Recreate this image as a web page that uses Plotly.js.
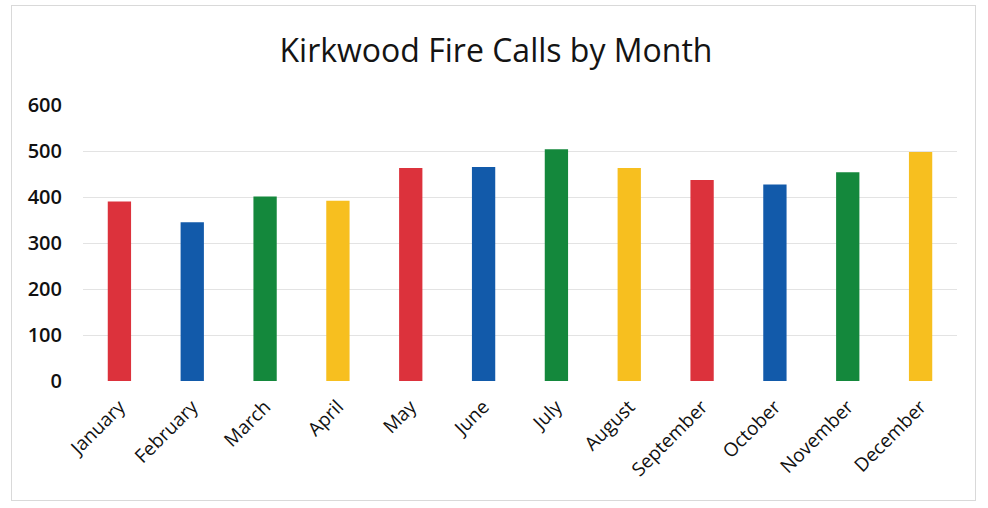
<!DOCTYPE html>
<html>
<head>
<meta charset="utf-8">
<script src="https://cdn.plot.ly/plotly-3.0.1.min.js"></script>
<style>
  html, body { margin: 0; padding: 0; background: #ffffff; }
  #wrap { position: relative; width: 988px; height: 508px; }
  #chart { width: 988px; height: 508px; }
  #frame { position: absolute; left: 11px; top: 5px; width: 963px; height: 494px;
           border: 1px solid #d9d9d9; pointer-events: none; }
</style>
</head>
<body>
<div id="wrap">
  <div id="chart"></div>
  <div id="frame"></div>
</div>
<script>
const months = ["January", "February", "March", "April", "May", "June",
                "July", "August", "September", "October", "November", "December"];
const calls = [390, 345, 401, 392, 463, 465, 504, 463, 437, 427, 454, 498];
const barColors = ["#DC323C", "#125AAA", "#14883C", "#F7BF1F",
                   "#DC323C", "#125AAA", "#14883C", "#F7BF1F",
                   "#DC323C", "#125AAA", "#14883C", "#F7BF1F"];
const yTicks = [0, 100, 200, 300, 400, 500, 600];

const trace = {
  type: "bar",
  x: months,
  y: calls,
  marker: { color: barColors, line: { width: 0 } },
  hoverinfo: "x+y"
};

const layout = {
  width: 988,
  height: 508,
  paper_bgcolor: "#ffffff",
  plot_bgcolor: "#ffffff",
  margin: { l: 83, r: 31, t: 105, b: 127 },
  bargap: 0.68,
  showlegend: false,
  title: {
    text: "Kirkwood Fire Calls by Month",
    font: { family: "Open Sans, sans-serif", size: 32, color: "#141414" },
    x: 0.502, xanchor: "center",
    y: 0.90, yanchor: "middle", yref: "container"
  },
  xaxis: {
    type: "category",
    tickangle: -45,
    showgrid: false,
    showline: false,
    zeroline: false,
    ticks: "",
    ticklabelstandoff: 10,
    tickfont: { family: "Open Sans, sans-serif", size: 19, color: "#111111" }
  },
  yaxis: {
    range: [0, 600],
    tickvals: yTicks,
    ticktext: yTicks.map(String),
    showgrid: true,
    gridcolor: "#e3e3e3",
    gridwidth: 1,
    zeroline: false,
    showline: false,
    ticks: "",
    ticklabelstandoff: 20,
    tickfont: { family: "Open Sans, sans-serif", size: 20, color: "#111111", weight: 600 }
  }
};

Plotly.newPlot("chart", [trace], layout, { displayModeBar: false, staticPlot: true });
</script>
</body>
</html>
